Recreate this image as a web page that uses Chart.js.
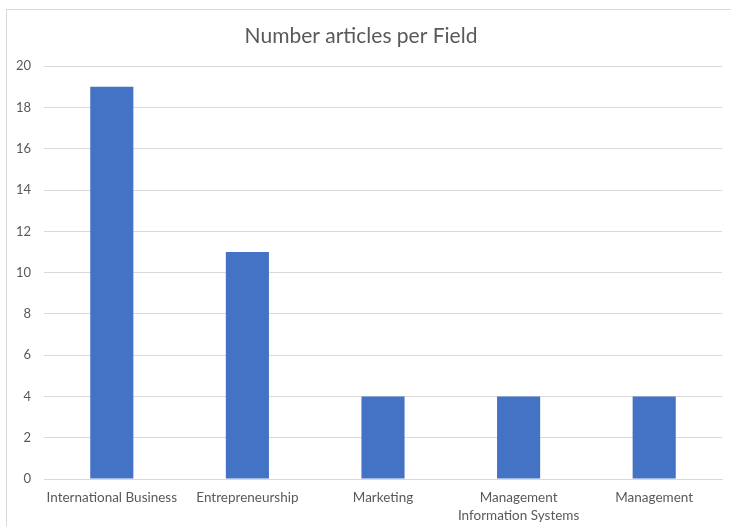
<!DOCTYPE html>
<html>
<head>
<meta charset="utf-8">
<script src="https://cdn.jsdelivr.net/npm/chart.js@4"></script>
<style>
  html, body { margin: 0; padding: 0; background: #ffffff; }
  #wrap { position: relative; width: 731px; height: 526px; }
</style>
</head>
<body>
<div id="wrap"><canvas id="chart" width="731" height="526"></canvas></div>
<script>
// Fields and number of articles per field
const fields = [
  'International Business',
  'Entrepreneurship',
  'Marketing',
  ['Management', 'Information Systems'],
  'Management'
];
const articleCounts = [19, 11, 4, 4, 4];
const yTicks = { min: 0, max: 20, step: 2 };

const FONT = "Lato, 'Open Sans', 'DejaVu Sans', sans-serif";
const TEXT = '#595959';
const GRID = '#d9d9d9';

// Light frame around the whole chart
const frame = {
  id: 'frame',
  beforeDraw(chart) {
    const ctx = chart.ctx;
    ctx.save();
    ctx.fillStyle = '#ffffff';
    ctx.fillRect(0, 0, chart.width, chart.height);
    ctx.strokeStyle = '#d9d9d9';
    ctx.lineWidth = 1;
    ctx.strokeRect(6.5, 9.5, 730, 540);
    ctx.restore();
  }
};

new Chart(document.getElementById('chart'), {
  type: 'bar',
  data: {
    labels: fields,
    datasets: [{
      label: 'Number articles',
      data: articleCounts,
      backgroundColor: '#4472C4',
      borderWidth: 0,
      categoryPercentage: 1,
      barPercentage: 0.318
    }]
  },
  options: {
    responsive: false,
    animation: false,
    layout: { padding: { left: 0, right: 9, top: 24, bottom: 0 } },
    plugins: {
      legend: { display: false },
      tooltip: { enabled: false },
      title: {
        display: true,
        text: 'Number articles per Field',
        color: TEXT,
        font: { family: FONT, size: 21, weight: 'normal' },
        padding: { top: 0, bottom: 17 }
      }
    },
    scales: {
      x: {
        grid: { display: false, drawTicks: false },
        border: { display: true, color: GRID, width: 1 },
        ticks: {
          color: TEXT,
          font: { family: FONT, size: 13.5, lineHeight: 1.3 },
          padding: 10,
          maxRotation: 0,
          autoSkip: false
        },
        afterFit(scale) { scale.height = 47; }
      },
      y: {
        min: yTicks.min,
        max: yTicks.max,
        grid: { color: GRID, drawTicks: false },
        border: { display: false },
        ticks: {
          stepSize: yTicks.step,
          color: TEXT,
          font: { family: FONT, size: 13 },
          padding: 13
        },
        afterFit(scale) { scale.width = 44; }
      }
    }
  },
  plugins: [frame]
});
</script>
</body>
</html>
